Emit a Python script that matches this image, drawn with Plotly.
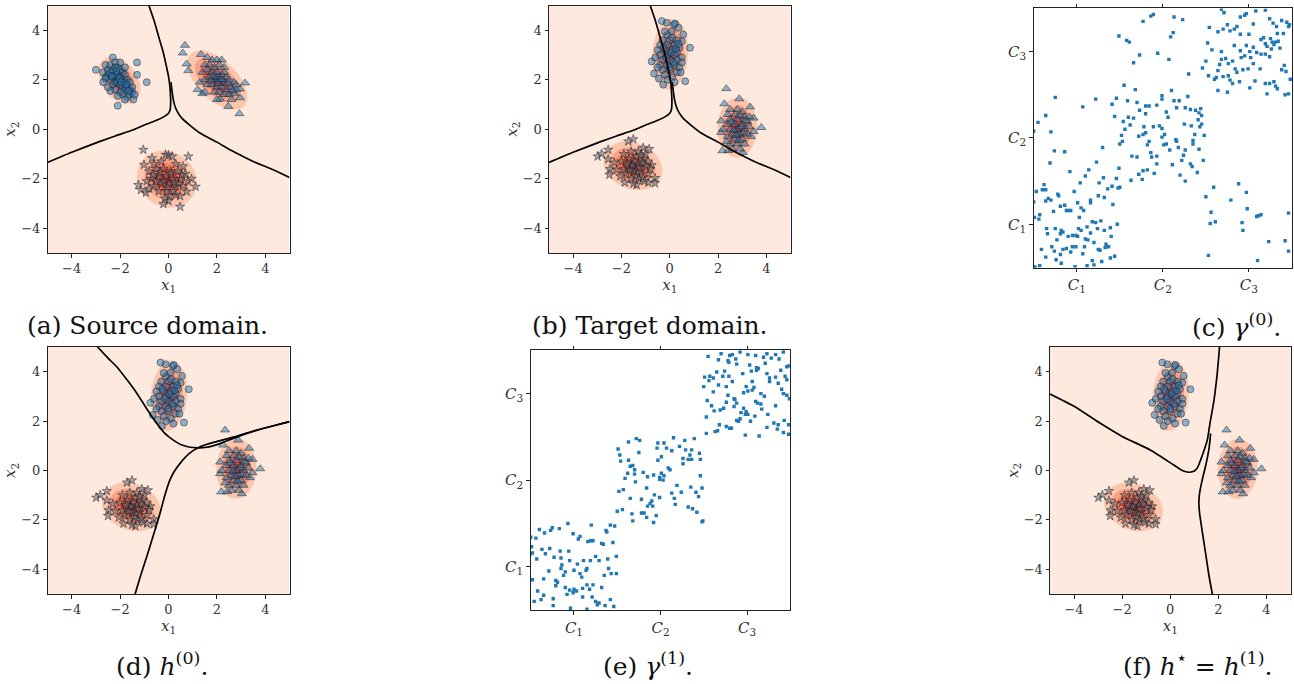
import numpy as np
import plotly.graph_objects as go

W, H = 1294, 684

# ---------------- source domain samples ----------------
src_circles = [(-3.0,2.4),(-2.3,2.9),(-2.6,2.6),(-2.7,2.3),(-2.5,2.4),(-2.4,2.6),(-2.2,2.7),(-2.6,2.1),(-2.5,2.2),(-2.4,2.3),
               (-2.3,2.4),(-2.2,2.5),(-2.1,2.5),(-2.0,2.4),(-1.9,2.3),(-1.8,2.2),(-2.4,2.0),(-2.3,2.1),(-2.2,2.2),(-2.1,2.2),
               (-2.0,2.1),(-1.9,2.0),(-1.8,1.9),(-1.7,2.0),(-1.6,1.9),(-2.3,1.8),(-2.2,1.9),(-2.1,1.9),(-2.0,1.8),(-1.9,1.7),
               (-1.8,1.6),(-1.7,1.7),(-1.6,1.6),(-1.5,1.7),(-1.5,1.5),(-1.6,1.4),(-1.7,1.3),(-1.9,1.4),(-2.0,1.5),(-2.2,1.6),
               (-2.4,1.55),(-2.6,2.05),(-2.7,1.9),(-2.1,1.35),(-1.45,1.2),(-1.8,1.2),(-2.1,0.95),(-1.3,2.7),(-1.3,2.2),(-0.9,1.9),
               (-1.4,1.4),(-2.0,2.7),(-1.8,2.5),(-2.5,1.7),(-2.05,2.05),(-1.95,1.9),(-2.15,2.35),(-1.75,1.8),(-1.65,1.55),(-2.35,2.15)]
src_triangles = [(0.68,3.39),(0.59,3.08),(0.75,2.64),(0.82,2.37),(1.34,3.02),(3.16,1.87),(2.95,1.63),(2.93,0.63),(2.47,0.92),(1.40,1.44),
                 (2.13,1.22),(2.72,1.45),(2.95,1.27),(1.6,2.9),(1.8,2.8),(2.0,2.8),(2.2,2.8),(1.5,2.6),(1.7,2.6),(1.9,2.5),
                 (2.1,2.6),(2.3,2.5),(1.4,2.3),(1.6,2.4),(1.8,2.3),(2.0,2.3),(2.2,2.2),(2.4,2.1),(1.5,2.0),(1.7,2.1),
                 (1.9,2.0),(2.1,2.0),(2.3,1.9),(2.5,2.0),(2.7,1.9),(1.6,1.8),(1.8,1.8),(2.0,1.7),(2.2,1.7),(2.4,1.6),
                 (2.6,1.7),(2.8,1.6),(1.9,1.5),(2.1,1.5),(2.3,1.4),(2.5,1.4),(2.0,2.1),(2.2,2.0),(1.3,1.9),(1.2,1.6),
                 (2.6,1.2),(2.8,1.8),(2.0,1.2),(1.5,1.5),(2.3,2.3),(1.75,1.95),(2.05,1.85),(2.45,1.85),(1.85,2.15),(2.65,1.55)]
src_stars = [(-1.04,-0.83),(-0.68,-1.17),(-0.12,-1.03),(0.0,-1.05),(0.15,-1.1),(0.82,-1.1),(-1.01,-1.44),(-1.25,-2.25),(-1.14,-2.45),(-0.93,-2.56),
             (-0.21,-3.02),(0.48,-3.13),(0.48,-2.7),(1.12,-2.32),(0.75,-2.52),(0.0,-2.9),(-0.15,-2.8),(0.3,-2.65),(-0.6,-1.4),(-0.3,-1.3),
             (0.3,-1.4),(0.6,-1.5),(-0.8,-1.7),(-0.5,-1.6),(-0.2,-1.6),(0.1,-1.7),(0.4,-1.7),(0.7,-1.8),(-0.7,-2.0),(-0.4,-1.9),
             (-0.1,-1.9),(0.2,-2.0),(0.5,-2.0),(0.8,-2.1),(-0.6,-2.3),(-0.3,-2.2),(0.0,-2.2),(0.3,-2.3),(0.6,-2.3),(-0.4,-2.5),
             (-0.1,-2.5),(0.2,-2.5),(-0.2,-2.1),(0.1,-1.8),(-0.5,-2.1),(0.4,-2.2),(-0.9,-2.1),(0.95,-2.0),(-0.8,-2.4),(0.05,-2.7),
             (-0.35,-1.75),(0.25,-2.15),(-0.05,-2.35),(0.55,-1.85),(-0.65,-1.85)]

# ---------------- target domain samples ----------------
tgt_circles = [(-0.33,4.37),(-0.12,4.3),(0.18,4.23),(0.22,4.27),(0.08,3.96),(0.36,4.1),(0.56,3.83),(0.50,3.55),(0.84,3.29),(-0.75,2.74),
               (-0.65,2.25),(-0.27,1.80),(0.64,1.94),(-0.1,3.8),(-0.3,3.6),(0.0,3.6),(0.3,3.6),(-0.4,3.4),(-0.1,3.4),(0.2,3.4),
               (0.4,3.3),(-0.5,3.2),(-0.2,3.2),(0.1,3.2),(0.3,3.1),(-0.4,3.0),(-0.1,3.0),(0.2,3.0),(0.5,2.9),(-0.6,2.9),
               (-0.3,2.8),(0.0,2.8),(0.3,2.8),(-0.4,2.6),(-0.1,2.6),(0.2,2.6),(0.4,2.5),(-0.3,2.4),(0.0,2.4),(0.3,2.3),
               (-0.2,2.2),(0.1,2.1),(-0.1,2.0),(0.2,1.9),(-0.5,2.5),(0.5,2.7),(0.05,3.1),(-0.15,2.9),(0.15,2.7),(-0.25,3.3),
               (0.25,3.25),(0.0,2.5),(-0.45,2.05),(0.45,2.3),(0.1,3.7),(-0.2,3.95),(0.35,3.45)]
tgt_triangles = [(2.34,1.64),(2.88,1.23),(2.26,1.03),(3.33,0.9),(3.47,0.45),(3.79,0.07),(2.13,0.34),(2.13,-0.13),(2.18,-0.87),(2.43,-0.86),
                 (3.03,-0.94),(3.47,-0.09),(3.36,-0.29),(2.5,0.8),(2.8,0.8),(3.0,0.7),(2.4,0.6),(2.7,0.6),(3.1,0.5),(2.5,0.4),
                 (2.8,0.4),(3.2,0.3),(2.4,0.2),(2.7,0.2),(3.0,0.2),(3.3,0.1),(2.5,0.0),(2.8,0.0),(3.1,0.0),(2.6,-0.2),
                 (2.9,-0.2),(3.2,-0.2),(2.4,-0.3),(2.7,-0.4),(3.0,-0.4),(2.5,-0.6),(2.8,-0.6),(3.1,-0.6),(2.6,-0.8),(2.9,-0.8),
                 (2.35,-0.5),(3.3,0.5),(2.9,0.55),(2.65,-0.05),(2.95,0.1),(2.75,-0.25),(3.05,-0.15),(2.55,0.3),(2.85,-0.45),(3.15,0.35),
                 (2.2,0.0)]
tgt_stars = [(-2.99,-1.10),(-2.82,-0.99),(-2.55,-0.83),(-2.55,-1.21),(-2.48,-1.61),(-2.5,-1.84),(-2.2,-1.65),(-2.3,-1.35),(-1.72,-0.49),(-1.51,-0.4),
             (-1.86,-2.15),(-0.61,-1.97),(-0.61,-2.18),(-0.89,-2.15),(-1.37,-2.25),(-0.75,-1.45),(-0.85,-0.8),(-1.1,-0.75),(-1.9,-1.0),(-1.6,-0.9),
             (-1.3,-0.9),(-1.0,-1.0),(-2.0,-1.3),(-1.7,-1.2),(-1.4,-1.1),(-1.1,-1.2),(-0.9,-1.3),(-1.9,-1.6),(-1.6,-1.5),(-1.3,-1.4),
             (-1.0,-1.5),(-1.8,-1.8),(-1.5,-1.7),(-1.2,-1.7),(-0.9,-1.8),(-1.6,-2.0),(-1.3,-2.0),(-1.1,-1.95),(-1.45,-1.3),(-1.25,-1.55),
             (-1.55,-1.45),(-1.35,-1.75),(-1.75,-1.4),(-1.15,-1.35),(-1.65,-1.65),(-1.4,-1.9),(-2.05,-1.9),(-0.8,-1.6),(-1.2,-1.05),(-1.5,-2.2),
             (-1.05,-2.1)]

# ---------------- decision boundaries ----------------
bnd_src_a = [(-0.81,5.0),(-0.6,4.4),(-0.49,4.03),(-0.35,3.55),(-0.21,3.08),(-0.1,2.6),(0.0,2.14),(0.05,1.8),(0.08,1.4),(0.09,1.06),
             (0.07,0.8),(0.0,0.65),(-0.2,0.5),(-0.49,0.36),(-1.0,0.17),(-1.45,-0.02),(-2.2,-0.27),(-2.83,-0.49),(-4.0,-0.93),(-5.0,-1.34)]
bnd_src_b = [(0.1,1.9),(0.13,1.67),(0.18,1.3),(0.27,0.92),(0.4,0.65),(0.55,0.45),(0.9,0.15),(1.3,-0.15),(2.0,-0.52),(2.68,-0.9),
             (3.5,-1.3),(4.3,-1.63),(5.0,-1.95)]
bnd_h0_a = [(-2.93,5.0),(-2.5,4.55),(-2.14,4.2),(-1.7,3.65),(-1.31,3.13),(-0.9,2.5),(-0.49,1.91),(-0.15,1.5),(0.2,1.23),(0.5,1.05),
            (0.89,0.94),(1.2,0.92),(1.58,0.94),(2.1,1.08),(2.68,1.3),(3.5,1.58),(4.3,1.8),(5.0,1.98)]
bnd_h0_b = [(-1.38,-5.0),(-1.15,-4.25),(-0.9,-3.49),(-0.62,-2.6),(-0.35,-1.73),(-0.15,-1.0),(0.06,-0.38),(0.25,-0.02),(0.48,0.29),(0.85,0.68),
            (1.3,0.96),(1.99,1.17),(2.68,1.35),(3.5,1.6),(4.3,1.8),(5.0,1.98)]
bnd_h1_a = [(-5.0,3.1),(-4.0,2.6),(-2.91,1.91),(-2.0,1.38),(-0.83,0.83),(0.15,0.22),(0.5,0.0),(0.77,-0.07),(0.95,-0.04),(1.05,0.02),
            (1.15,0.15),(1.26,0.42),(1.4,0.8),(1.54,1.23),(1.65,1.9),(1.82,2.85),(1.95,3.9),(2.05,5.0)]
bnd_h1_b = [(1.75,-5.0),(1.6,-4.2),(1.47,-3.35),(1.32,-2.4),(1.22,-1.73),(1.19,-1.3),(1.22,-0.92),(1.33,-0.38),(1.45,0.1),(1.54,0.5),
            (1.62,0.95),(1.68,1.5)]

# ---------------- transport plans (sample index pairs) ----------------
gamma0 = [(99,268),(127,285),(136,291),(139,293),(163,290),(173,287),(108,263),(111,261),(159,267),(162,272),(144,248),(157,241),(123,246),(116,237),
          (218,299),(221,295),(240,290),(245,292),(247,294),(258,297),(269,298),(255,282),(274,288),(278,283),(282,279),(288,286),(294,284),(297,281),
          (204,278),(214,273),(220,276),(225,281),(228,274),(233,276),(236,279),(240,270),(250,270),(255,255),(264,264),(267,266),(269,259),(271,256),
          (275,265),(277,261),(283,271),(290,271),(296,279),
          (202,260),(207,252),(200,239),(196,231),(203,222),(210,218),(212,220),(214,228),(216,235),(218,241),(218,250),(223,242),(226,236),(231,239),
          (233,257),(236,226),(240,251),(241,243),(245,245),(247,257),(249,230),(251,250),(252,243),(259,249),(263,230),(257,216),(251,208),(264,247),
          (269,247),(274,244),(276,253),(279,258),(281,261),(284,262),(286,254),(288,229),(291,234),(293,227),(296,201),(298,218),(292,200),(283,207),
          (281,210),(279,215),(274,213),(271,201),(269,213),(220,221),(226,222),(225,203),(214,205),(228,217),(231,213),(239,215),(243,229),(234,230),
          (255,236),
          (180,224),(105,211),(118,206),(57,186),(72,195),(96,196),(91,189),(109,193),(120,191),(123,182),(130,187),(130,178),(134,187),(143,188),
          (149,199),(149,195),(154,180),(156,174),(160,205),(163,193),(166,185),(169,193),(176,185),(179,198),(182,183),(188,182),(192,179),(194,184),
          (195,176),(191,171),(94,175),(104,169),(110,174),(116,173),(112,165),(106,160),(102,153),(103,146),(122,152),(128,163),(130,156),(139,163),
          (146,164),(149,151),(152,154),(151,142),(154,143),(149,161),(165,148),(166,146),(168,139),(176,136),(175,166),(183,164),(185,147),(187,154),
          (185,143),(193,163),(198,153),(192,137),(197,124),(182,120),(184,117),(190,110),(174,130),(172,124),(161,119),(158,136),(143,129),(137,128),
          (132,142),(136,133),(127,154),(134,146),(114,129),(120,128),(100,143),(99,115),(113,101),(122,108),(126,102),(127,112),(132,113),(140,109),
          (143,120),(170,107),(176,100),(195,166),
          (0,158),(5,168),(14,176),(19,121),(20,157),(24,135),(25,197),(36,134),(42,111),(80,139),(73,122),(54,98),(60,106),(64,113),
          (76,98),(81,104),(91,94),(96,103),(98,92),(100,93),(86,91),(12,96),(10,90),(14,90),(3,88),(0,76),(14,77),(17,80),
          (28,85),(29,83),(20,78),(23,65),(7,61),(1,58),(6,56),(31,71),(36,72),(38,66),(40,66),(43,66),(47,88),(51,75),
          (55,69),(58,66),(53,58),(66,78),(66,75),(75,83),(82,81),(92,73),(72,52),(78,54),(68,53),(62,47),(55,43),(52,45),
          (51,36),(49,37),(60,33),(63,32),(59,24),(66,40),(74,45),(82,43),(89,46),(97,50),(90,36),(84,27),(83,23),(87,24),
          (77,20),(75,21),(70,29),(68,8),(70,3),(62,2),(79,7),(89,11),(94,13),(45,37),(40,36),(38,22),(34,21),(31,15),
          (32,5),(26,9),(21,24),(16,39),(15,45),(25,45),(32,43),(34,41),(31,39),(9,21),(14,12),(27,32),(43,18),(45,24),
          (48,1),(0,1),(2,0),(7,2),(24,19),(49,24),(57,16),
          (200,82),(209,93),(206,64),(205,51),(211,53),(203,14),(229,78),(238,97),(247,87),(248,68),(242,52),(243,43),(259,59),(261,60),
          (264,61),(273,30),(292,31),(296,19),(296,63),(260,8)]
gamma1 = [(205,293),(220,296),(230,294),(233,295),(242,298),(251,295),(260,294),(273,296),(283,295),(292,298),(217,289),(228,288),(229,286),(237,290),
          (238,284),(253,283),(261,280),(263,279),(269,292),(271,285),(278,291),(287,290),(296,281),(298,282),(201,269),(207,270),(206,265),(211,268),
          (215,275),(222,270),(224,276),(229,270),(233,264),(245,273),(255,276),(256,264),(261,277),(273,273),(276,268),(276,264),(283,269),(286,262),
          (289,277),(294,270),(296,266),(200,258),(211,252),(217,260),(226,258),(228,248),(235,244),(236,243),(246,251),(249,258),(251,253),(256,254),
          (258,257),(266,250),(270,247),(290,255),(292,250),(296,248),(299,244),(204,242),(209,236),(219,231),(212,230),(223,233),(226,240),(238,239),
          (243,228),(249,229),(246,233),(251,226),(260,241),(262,239),(266,238),(267,232),(274,226),(283,236),(203,223),(218,214),(226,212),(230,210),
          (232,210),(238,219),(240,218),(242,221),(248,226),(254,218),(259,224),(273,211),(281,216),(286,214),(285,209),(293,219),(298,214),(292,205),
          (298,203),(203,204),(213,206),(216,207),(248,202),(264,201),(235,235),
          (189,198),(165,199),(154,193),(157,187),(146,187),(147,193),(163,184),(172,189),(178,196),(179,185),(186,185),(184,179),(195,181),(113,194),
          (122,198),(126,196),(101,186),(103,179),(104,172),(113,173),(125,182),(151,177),(147,173),(159,164),(161,162),(176,175),(176,169),(182,174),
          (186,174),(196,174),(118,167),(115,166),(120,162),(112,158),(109,152),(120,157),(130,159),(121,148),(107,139),(102,137),(135,154),(142,156),
          (149,153),(149,151),(151,158),(134,141),(143,133),(149,130),(153,150),(154,155),(169,144),(174,136),(185,142),(196,155),(198,141),(191,136),
          (194,131),(115,129),(128,128),(140,126),(138,123),(141,120),(135,120),(163,135),(166,129),(167,122),(182,119),(187,117),(192,113),(128,112),
          (131,112),(134,107),(142,101),(145,109),(117,111),(118,103),(100,114),(106,116),(198,102),(199,103),
          (0,84),(6,83),(10,93),(16,89),(23,92),(25,95),(33,94),(43,100),(49,88),(57,85),(55,82),(66,79),(69,80),(72,80),
          (70,98),(82,77),(84,76),(88,90),(87,92),(92,98),(97,97),(95,78),(1,73),(2,66),(13,70),(22,71),(34,68),(44,68),
          (45,57),(35,60),(27,61),(17,65),(7,59),(0,65),(89,59),(99,62),(90,48),(79,57),(75,62),(69,57),(61,57),(54,53),
          (50,46),(59,38),(57,42),(64,46),(65,48),(35,48),(36,52),(40,44),(38,40),(21,45),(15,36),(2,35),(29,34),(31,32),
          (29,28),(40,26),(45,23),(49,20),(50,24),(53,22),(60,25),(65,29),(68,24),(72,29),(82,26),(85,40),(93,42),(99,42),
          (8,22),(4,10),(12,12),(15,17),(26,13),(26,5),(42,18),(60,15),(71,15),(75,10),(77,6),(79,8),(86,5),(92,12),
          (96,4),(65,1),(46,2)]

# ---------------- helpers ----------------
def dom(l, t, r, b):
    return [l / W, r / W], [1 - b / H, 1 - t / H]

BG = "#fee9df"
SERIF = "DejaVu Serif"
MARK_FILL = "rgba(31,119,180,0.5)"
MARK_EDGE = "rgba(20,20,20,0.65)"
BANDWIDTH = 1.2  # widening factor applied to each class covariance

grid = np.linspace(-5, 5, 181)
GX, GY = np.meshgrid(grid, grid)


def density(clusters):
    """Peak-normalised Gaussian bump for every class, combined by maximum."""
    z = np.zeros_like(GX)
    for pts in clusters:
        p = np.asarray(pts, dtype=float)
        mu = p.mean(axis=0)
        cov = np.cov(p.T) * BANDWIDTH
        inv = np.linalg.inv(cov)
        dx = GX - mu[0]
        dy = GY - mu[1]
        d2 = inv[0, 0] * dx * dx + 2 * inv[0, 1] * dx * dy + inv[1, 1] * dy * dy
        z = np.maximum(z, np.exp(-0.5 * d2))
    return z


dens_colors = [
    [0.0, BG], [0.14, BG],
    [0.14, "#fcc5ad"], [0.34, "#fcc5ad"],
    [0.34, "#fca083"], [0.54, "#fca083"],
    [0.54, "#fb7a5a"], [0.74, "#fb7a5a"],
    [0.74, "#f0503a"], [0.9, "#f0503a"],
    [0.9, "#d92822"], [1.0, "#d92822"],
]

fig = go.Figure()

panels_2d = {
    "a": dict(box=(47.5, 5.5, 289.5, 253), data=(src_circles, src_triangles, src_stars), bnd=(bnd_src_a, bnd_src_b)),
    "b": dict(box=(549, 5.5, 790.5, 253), data=(tgt_circles, tgt_triangles, tgt_stars), bnd=(bnd_src_a, bnd_src_b)),
    "d": dict(box=(47.5, 347, 289.5, 594), data=(tgt_circles, tgt_triangles, tgt_stars), bnd=(bnd_h0_a, bnd_h0_b)),
    "f": dict(box=(1050, 347, 1290.5, 594), data=(tgt_circles, tgt_triangles, tgt_stars), bnd=(bnd_h1_a, bnd_h1_b)),
}
panels_gamma = {
    "c": dict(box=(1033.7, 8.4, 1292, 267.5), data=gamma0),
    "e": dict(box=(530.7, 350.3, 790.3, 610), data=gamma1),
}

order = ["a", "b", "c", "d", "e", "f"]
axis_id = {k: i + 1 for i, k in enumerate(order)}

tick_font = dict(family=SERIF, size=13, color="#333")
layout_axes = {}

for key in order:
    n = axis_id[key]
    xa = "x" if n == 1 else f"x{n}"
    ya = "y" if n == 1 else f"y{n}"
    xname = "xaxis" if n == 1 else f"xaxis{n}"
    yname = "yaxis" if n == 1 else f"yaxis{n}"

    if key in panels_2d:
        p = panels_2d[key]
        xd, yd = dom(*p["box"])
        circ, tri, star = p["data"]
        fig.add_trace(go.Contour(
            x=grid, y=grid, z=density([circ, tri, star]), xaxis=xa, yaxis=ya,
            colorscale=dens_colors, zmin=0, zmax=1, zauto=False, showscale=False,
            contours=dict(start=0.15, end=0.95, size=0.2, coloring="fill", showlines=False),
            line=dict(width=0), hoverinfo="skip"))
        for pts, sym, size, fill in ((circ, "circle", 7, MARK_FILL),
                                     (tri, "triangle-up", 8, MARK_FILL),
                                     (star, "star", 7, "rgba(95,110,125,0.55)")):
            arr = np.asarray(pts)
            fig.add_trace(go.Scatter(
                x=arr[:, 0], y=arr[:, 1], mode="markers", xaxis=xa, yaxis=ya,
                marker=dict(symbol=sym, size=size, color=fill, line=dict(color=MARK_EDGE, width=0.7)),
                showlegend=False, hoverinfo="skip"))
        for curve in p["bnd"]:
            arr = np.asarray(curve)
            fig.add_trace(go.Scatter(
                x=arr[:, 0], y=arr[:, 1], mode="lines", xaxis=xa, yaxis=ya,
                line=dict(color="black", width=1.7, shape="spline", smoothing=0.6),
                showlegend=False, hoverinfo="skip"))
        tickvals = [-4, -2, 0, 2, 4]
        ticktext = ["\u22124", "\u22122", "0", "2", "4"]
        common = dict(range=[-5, 5], tickvals=tickvals, ticktext=ticktext, ticks="outside",
                      ticklen=3.5, tickwidth=0.8, tickcolor="#222", showline=True, mirror=True,
                      linecolor="#222", linewidth=1, showgrid=False, zeroline=False,
                      tickfont=tick_font)
        layout_axes[xname] = dict(domain=xd, anchor=ya, **common,
                                  title=dict(text="<i>x</i><sub>1</sub>", standoff=1,
                                             font=dict(family=SERIF, size=15, color="#333")))
        layout_axes[yname] = dict(domain=yd, anchor=xa, **common,
                                  title=dict(text="<i>x</i><sub>2</sub>", standoff=1,
                                             font=dict(family=SERIF, size=15, color="#333")))
    else:
        p = panels_gamma[key]
        xd, yd = dom(*p["box"])
        arr = np.asarray(p["data"])
        fig.add_trace(go.Scatter(
            x=arr[:, 0], y=arr[:, 1], mode="markers", xaxis=xa, yaxis=ya,
            marker=dict(symbol="square", size=3.4, color="#1f77b4", line=dict(width=0)),
            showlegend=False, hoverinfo="skip"))
        labels = ["<i>C</i><sub>1</sub>", "<i>C</i><sub>2</sub>", "<i>C</i><sub>3</sub>"]
        common = dict(range=[0, 300], tickvals=[50, 150, 250], ticktext=labels, ticks="outside",
                      ticklen=3.5, tickwidth=0.8, tickcolor="#222", showline=True,
                      linecolor="#222", linewidth=1, showgrid=False, zeroline=False,
                      tickfont=dict(family=SERIF, size=15, color="#333"))
        layout_axes[xname] = dict(domain=xd, anchor=ya, mirror="ticks", **common)
        layout_axes[yname] = dict(domain=yd, anchor=xa, mirror=True, **common)

captions = [
    ("(a) Source domain.", 147, 325),
    ("(b) Target domain.", 650, 325),
    ("(c) <i>γ</i><sup>(0)</sup>.", 1236, 325),
    ("(d) <i>h</i><sup>(0)</sup>.", 162, 664),
    ("(e) <i>γ</i><sup>(1)</sup>.", 648, 664),
    ("(f) <i>h</i><sup>⋆</sup> = <i>h</i><sup>(1)</sup>.", 1198, 664),
]
annotations = [dict(text=t, x=cx / W, y=1 - cy / H, xref="paper", yref="paper",
                    showarrow=False, xanchor="center", yanchor="middle",
                    font=dict(family=SERIF, size=25, color="#111"))
               for t, cx, cy in captions]

fig.update_layout(
    width=W, height=H, margin=dict(l=0, r=0, t=0, b=0),
    paper_bgcolor="white", plot_bgcolor="white",
    showlegend=False, annotations=annotations, **layout_axes)

fig.write_html("out.html")
